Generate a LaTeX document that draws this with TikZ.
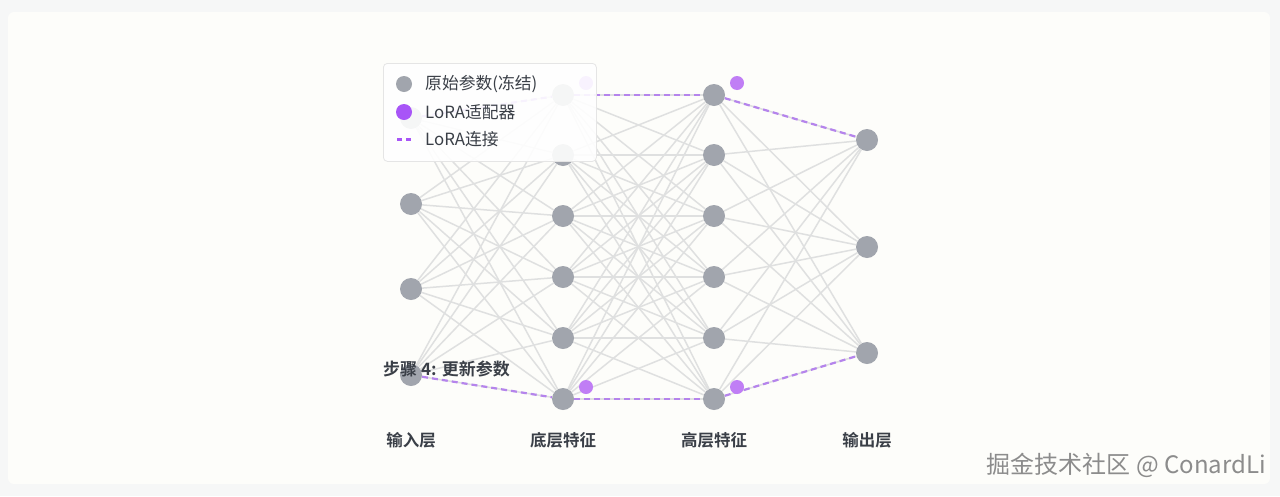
\documentclass[tikz,border=0pt]{standalone}
\usepackage{fontspec}
\setmainfont{Noto Sans CJK SC}[BoldFont={Noto Sans CJK SC Bold}]
\usepackage{tikz}
\usetikzlibrary{positioning}
\definecolor{pagebg}{HTML}{F6F7F7}
\definecolor{cardbg}{HTML}{FDFDFA}
\definecolor{frozengray}{HTML}{A1A5AD}
\definecolor{edgegray}{HTML}{DFE0E0}
\definecolor{lorapurple}{HTML}{C07EF5}
\definecolor{keypurple}{HTML}{A855F7}
\definecolor{dashpurple}{HTML}{B584EC}
\definecolor{labeltext}{HTML}{3A3F47}
\pgfdeclarelayer{bg}
\pgfdeclarelayer{edges}
\pgfsetlayers{bg,edges,main}

\begin{document}
\begin{tikzpicture}[
  x=1pt, y=-1pt,
  neuron/.style={circle, fill=frozengray, inner sep=0pt, minimum size=22pt},
  adapter/.style={circle, fill=lorapurple, inner sep=0pt, minimum size=14pt},
  edge/.style={draw=edgegray, line width=1.5pt},
  lora/.style={draw=dashpurple, line width=2.2pt, dash pattern=on 6pt off 4pt},
  layertext/.style={font=\fontsize{16.5}{20}\selectfont\bfseries, text=labeltext},
  keytext/.style={font=\fontsize{16.8}{20}\selectfont, text=labeltext, inner sep=0pt},
  legendbox/.style={draw=black!10, fill=white, fill opacity=0.9, rounded corners=4pt, line width=0.8pt}
]
% page and card
\begin{pgfonlayer}{bg}
\fill[pagebg] (0,0) rectangle (1280,496);
\fill[cardbg, rounded corners=6pt] (8,12) rectangle (1270,484);
\end{pgfonlayer}

% layers
\foreach \y [count=\i] in {118,204,289,375}
  \node[neuron] (in\i) at (411,\y) {};
\foreach \y [count=\i] in {95,155,216,277,338,399}
  \node[neuron] (lo\i) at (563,\y) {};
\foreach \y [count=\i] in {95,155,216,277,338,399}
  \node[neuron] (hi\i) at (714,\y) {};
\foreach \y [count=\i] in {140,247,353}
  \node[neuron] (out\i) at (867,\y) {};

% frozen weights
\begin{pgfonlayer}{edges}
\foreach \i in {1,...,4}
  \foreach \j in {1,...,6}
    \draw[edge] (in\i) -- (lo\j);
\foreach \i in {1,...,6}
  \foreach \j in {1,...,6}
    \draw[edge] (lo\i) -- (hi\j);
\foreach \i in {1,...,6}
  \foreach \j in {1,...,3}
    \draw[edge] (hi\i) -- (out\j);
% lora paths
\draw[lora] (in1) -- (lo1);
\draw[lora] (lo1) -- (hi1);
\draw[lora] (hi1) -- (out1);
\draw[lora] (in4) -- (lo6);
\draw[lora] (lo6) -- (hi6);
\draw[lora] (hi6) -- (out3);
\end{pgfonlayer}

% adapters
\node[adapter] (ad1) at (586,83) {};
\node[adapter] (ad2) at (737,83) {};
\node[adapter] (ad3) at (586,387) {};
\node[adapter] (ad4) at (737,387) {};

% layer names
\node[layertext] (lin) at (411,440) {输入层};
\node[layertext] (llo) at (563,440) {底层特征};
\node[layertext] (lhi) at (714,440) {高层特征};
\node[layertext] (lout) at (867,440) {输出层};

\node[layertext, font=\fontsize{17}{20}\selectfont\bfseries, anchor=west, inner sep=0pt] (step) at (383,369) {步骤 4: 更新参数};

% legend
\node[legendbox, anchor=north west, minimum width=213pt, minimum height=98pt] (legend) at (383,63) {};
\node[circle, fill=frozengray, inner sep=0pt, minimum size=16pt] (key1) at (404,84) {};
\node[circle, fill=keypurple, inner sep=0pt, minimum size=16pt] (key2) at (404,112) {};
\coordinate (key3a) at (397,139);
\coordinate (key3b) at (411,139);
\draw[draw=keypurple, line width=3pt, dash pattern=on 5pt off 4pt] (key3a) -- (key3b);
\node[keytext, anchor=west] (txt1) at (425,84) {原始参数(冻结)};
\node[keytext, anchor=west] (txt2) at (425,112) {LoRA适配器};
\node[keytext, anchor=west] (txt3) at (425,139) {LoRA连接};

% watermark
\node[font=\fontsize{24}{28}\selectfont, text=black!45, anchor=east, inner sep=0pt] (mark) at (1266,465) {掘金技术社区 @ ConardLi};
\end{tikzpicture}
\end{document}
